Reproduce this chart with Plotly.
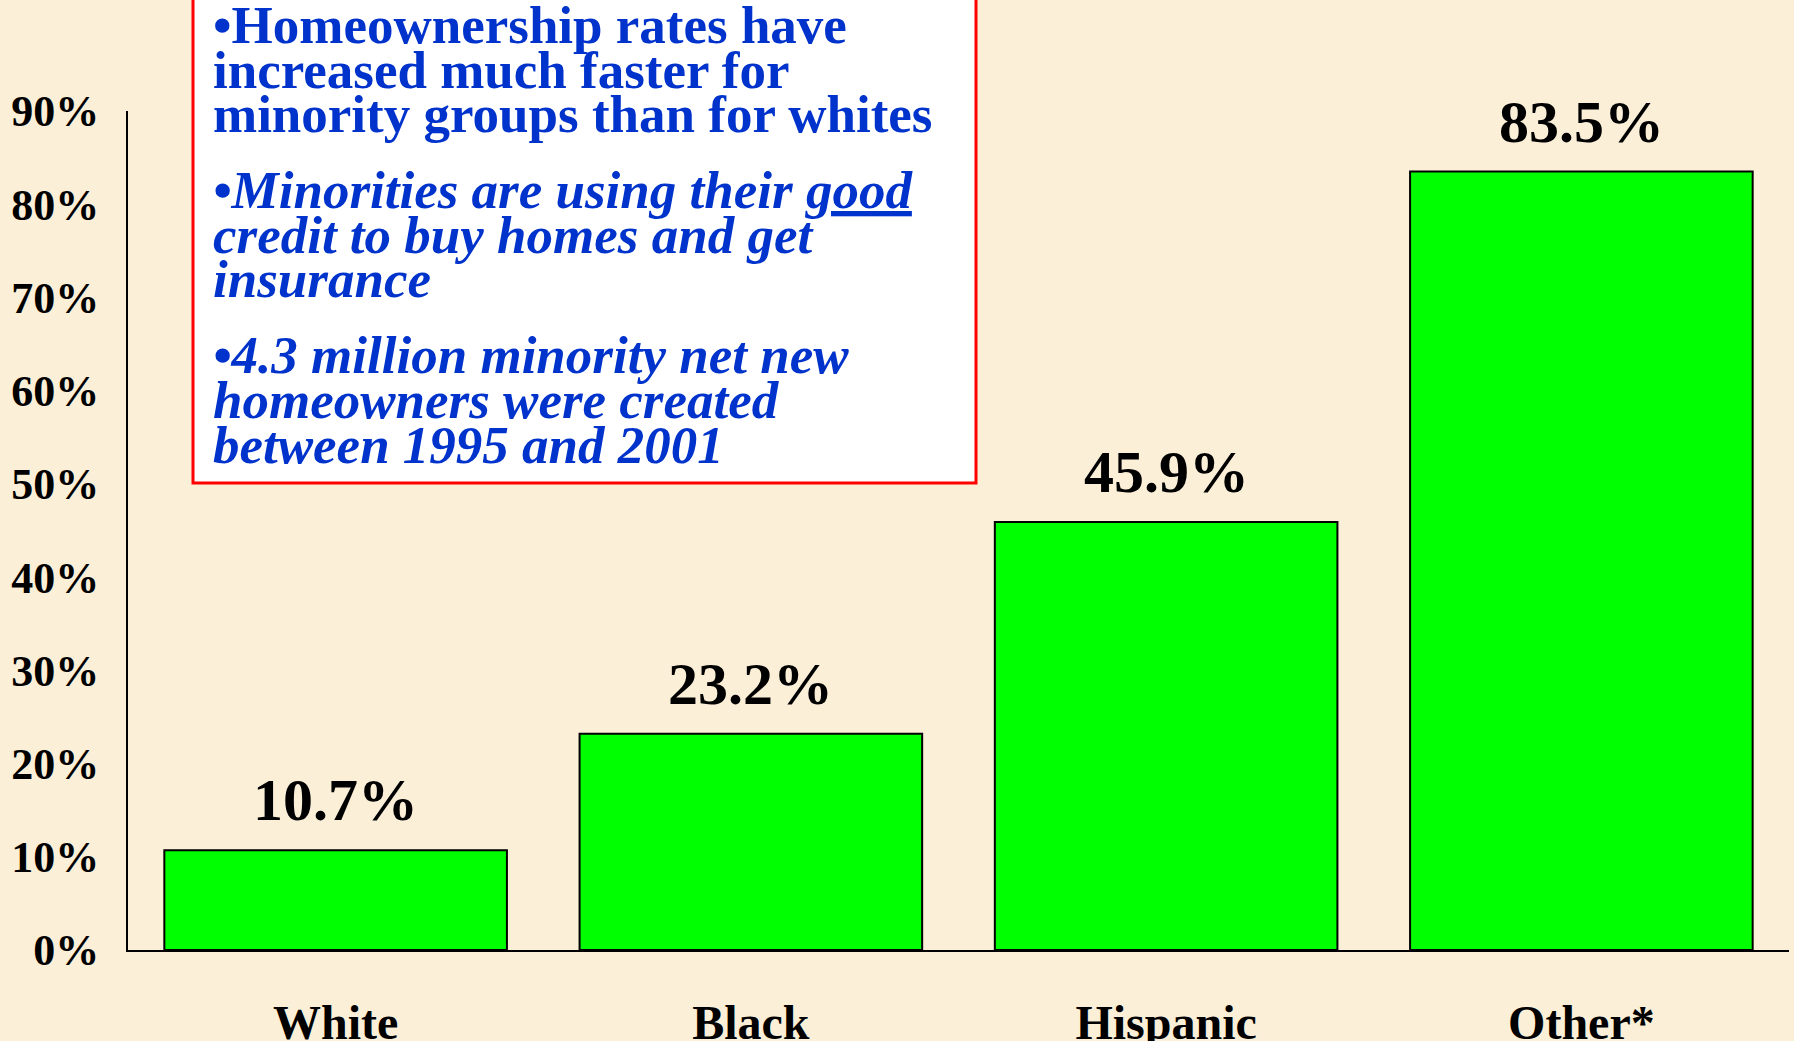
import plotly.graph_objects as go

# ---- data ----
categories = ["White", "Black", "Hispanic", "Other*"]
growth_pct = [10.7, 23.2, 45.9, 83.5]
y_ticks = [0, 10, 20, 30, 40, 50, 60, 70, 80, 90]

bullet_lines = [
    ("•Homeownership rates have", False),
    ("increased much faster for", False),
    ("minority groups than for whites", False),
    ("•Minorities are using their <u>good</u>", True),
    ("credit to buy homes and get", True),
    ("insurance", True),
    ("•4.3 million minority net new", True),
    ("homeowners were created", True),
    ("between 1995 and 2001", True),
]
line_baselines_px = [43, 88, 132, 208, 253, 297, 373, 418, 463]

# ---- layout geometry ----
W, H = 1794, 1041
ML, MR, MT, MB = 128, 5, 111, 91
plot_w = W - ML - MR
plot_h = H - MT - MB
FONT = "Liberation Serif, Times New Roman, serif"
BG = "#FBEFD8"
BLUE = "#0033CC"


def px_x(px):
    return (px - ML) / plot_w


def px_y(py):
    return (H - MB - py) / plot_h


fig = go.Figure()
fig.add_trace(go.Bar(
    x=categories,
    y=growth_pct,
    marker=dict(color="#00FF00", line=dict(color="black", width=2)),
    hoverinfo="skip",
))

annotations = []
for c, v in zip(categories, growth_pct):
    annotations.append(dict(
        x=c, y=v, xref="x", yref="y", text=f"{v:.1f}%",
        showarrow=False, yanchor="bottom", xanchor="center", yshift=15,
        font=dict(family=FONT, size=60, color="black", weight="bold"),
    ))

fs = 53
for (txt, ital), base in zip(bullet_lines, line_baselines_px):
    center = base - 0.3375 * fs
    annotations.append(dict(
        x=px_x(211), y=px_y(center), xref="paper", yref="paper",
        text=txt, showarrow=False, xanchor="left", yanchor="middle",
        font=dict(family=FONT, size=fs, color=BLUE, weight="bold",
                  style="italic" if ital else "normal"),
    ))

fig.update_layout(
    width=W, height=H, autosize=False,
    margin=dict(l=ML, r=MR, t=MT, b=MB, autoexpand=False),
    paper_bgcolor=BG, plot_bgcolor="rgba(0,0,0,0)",
    showlegend=False,
    bargap=0.175,
    annotations=annotations,
    shapes=[dict(
        type="rect", xref="paper", yref="paper",
        x0=px_x(193), x1=px_x(976), y0=px_y(483), y1=px_y(-10),
        line=dict(color="#FF0000", width=3), fillcolor="white", layer="below",
    )],
    xaxis=dict(
        range=[-0.5, 3.5], showline=True, linecolor="black", linewidth=2,
        showgrid=False, zeroline=False, ticks="", automargin=False,
        tickfont=dict(family=FONT, size=48, color="black", weight="bold"),
        ticklabelstandoff=29,
    ),
    yaxis=dict(
        range=[0, 90], showline=True, linecolor="black", linewidth=2,
        showgrid=False, zeroline=False, ticks="", automargin=False,
        tickvals=y_ticks, ticktext=[f"{t}%" for t in y_ticks],
        tickfont=dict(family=FONT, size=44, color="black", weight="bold"),
        ticklabelstandoff=18,
    ),
)

fig.write_html("out.html")
